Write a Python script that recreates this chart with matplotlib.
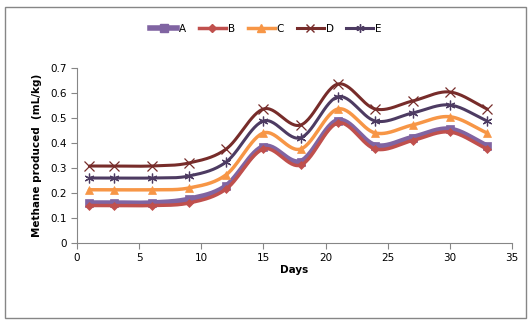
import numpy as np
import matplotlib.pyplot as plt
from matplotlib.patches import Rectangle

days = [1, 3, 6, 9, 12, 15, 18, 21, 24, 27, 30, 33]
series_a = [0.16, 0.16, 0.16, 0.175, 0.228, 0.385, 0.326, 0.49, 0.39, 0.422, 0.455, 0.388]
series_b = [0.15, 0.15, 0.15, 0.16, 0.216, 0.376, 0.312, 0.48, 0.376, 0.41, 0.444, 0.376]
series_c = [0.213, 0.213, 0.213, 0.22, 0.273, 0.44, 0.376, 0.536, 0.44, 0.472, 0.505, 0.44]
series_d = [0.308, 0.308, 0.308, 0.32, 0.376, 0.536, 0.472, 0.636, 0.536, 0.568, 0.604, 0.536]
series_e = [0.26, 0.26, 0.26, 0.268, 0.324, 0.488, 0.421, 0.585, 0.488, 0.52, 0.552, 0.488]


def smooth(x, y, n=30):
    # Catmull-Rom curve through the points, like a spreadsheet "smoothed line"
    x = np.asarray(x, float)
    y = np.asarray(y, float)
    px = np.concatenate([[2 * x[0] - x[1]], x, [2 * x[-1] - x[-2]]])
    py = np.concatenate([[2 * y[0] - y[1]], y, [2 * y[-1] - y[-2]]])
    xs, ys = [], []
    t = np.linspace(0, 1, n)
    for i in range(1, len(px) - 2):
        for p, out in ((px, xs), (py, ys)):
            p0, p1, p2, p3 = p[i - 1], p[i], p[i + 1], p[i + 2]
            m1 = (p2 - p0) / 6
            m2 = (p3 - p1) / 6
            c = ((1 - t) ** 3 * p1 + 3 * (1 - t) ** 2 * t * (p1 + m1)
                 + 3 * (1 - t) * t ** 2 * (p2 - m2) + t ** 3 * p2)
            out.extend(c)
    return np.array(xs), np.array(ys)


styles = [
    ("A", series_a, "#8064A2", "s", 4.0, 6),
    ("B", series_b, "#C0504D", "D", 2.5, 4.5),
    ("C", series_c, "#F79646", "^", 2.5, 6),
    ("D", series_d, "#772C2A", "x", 2.2, 7),
    ("E", series_e, "#4D3B62", (6, 2, 0), 2.2, 7),
]

fig = plt.figure(figsize=(5.32, 3.24), dpi=100)
ax = fig.add_axes([77 / 532, 1 - 243 / 324, 435 / 532, 175 / 324])

for name, vals, color, marker, lw, ms in styles:
    sx, sy = smooth(days, vals)
    ax.plot(sx, sy, color=color, lw=lw, solid_capstyle="round")
    ax.plot(days, vals, ls="none", marker=marker, color=color, ms=ms,
            mew=0.9 if marker in ("x", (6, 2, 0)) else 0.5)
    ax.plot([], [], color=color, lw=lw, marker=marker, ms=ms * 0.85, label=name)

ax.set_xlim(0, 35)
ax.set_ylim(0, 0.7)
ax.set_xticks(range(0, 36, 5))
ax.set_yticks(np.arange(0, 0.71, 0.1))
ax.set_yticklabels(["0", "0.1", "0.2", "0.3", "0.4", "0.5", "0.6", "0.7"])
for s in ("top", "right"):
    ax.spines[s].set_visible(False)
for s in ("left", "bottom"):
    ax.spines[s].set_color("#868686")
ax.tick_params(direction="out", length=4, color="#868686", labelsize=7.5)
ax.set_xlabel("Days", fontsize=7.5, fontweight="bold", labelpad=1)
ax.set_ylabel("Methane produced  (mL/kg)", fontsize=7.5, fontweight="bold", labelpad=6)

fig.legend(loc="center", bbox_to_anchor=(0.5, 1 - 29 / 324), ncol=5, frameon=False,
           fontsize=7.5, handlelength=2.6, columnspacing=1.2, handletextpad=0.2)

fig.patches.append(Rectangle((5 / 532, 6 / 324), 521 / 532, 311 / 324, transform=fig.transFigure,
                             fill=False, edgecolor="#868686", lw=1.0))

fig.savefig("out.png", dpi=100)
